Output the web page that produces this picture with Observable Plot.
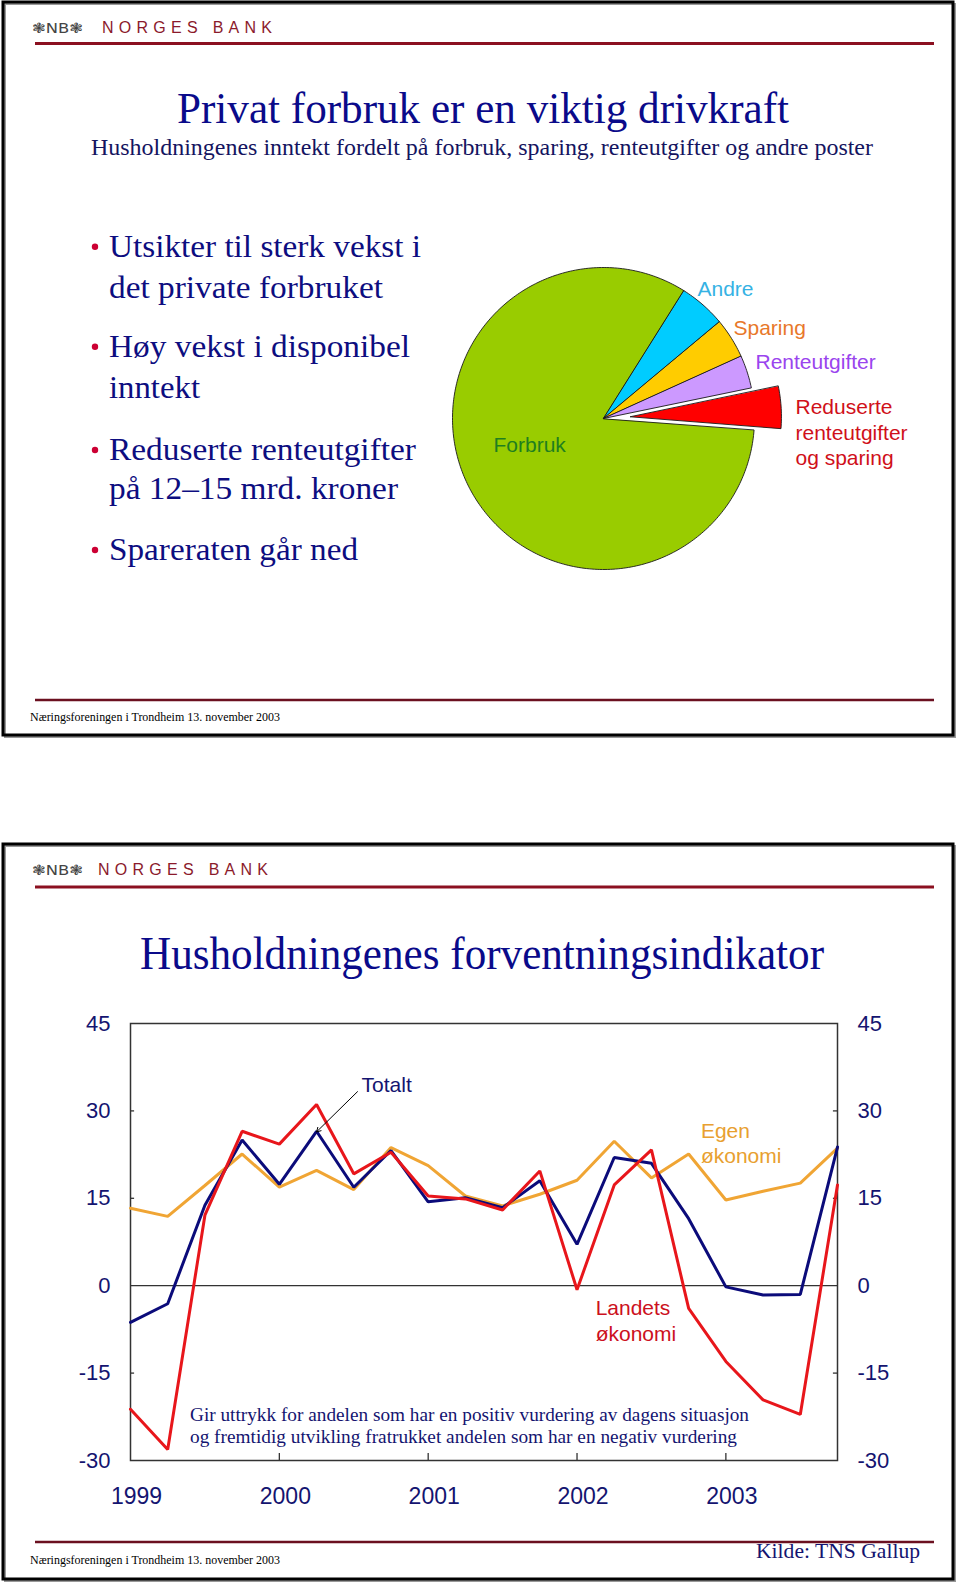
<!DOCTYPE html>
<html>
<head>
<meta charset="utf-8">
<script src="https://cdn.jsdelivr.net/npm/d3@7"></script>
<script src="https://cdn.jsdelivr.net/npm/@observablehq/plot@0.6"></script>
<style>
  html, body { margin: 0; padding: 0; background: #fff; }
  #page { position: relative; width: 960px; height: 1583px; overflow: hidden; background: #fff; }
  #deco { position: absolute; left: 0; top: 0; }
  #pie { position: absolute; left: 440px; top: 250px; }
  #lines { position: absolute; left: 0px; top: 990px; }
  #pie svg, #lines svg { overflow: visible; }
</style>
</head>
<body>
<div id="page">
  <svg id="deco" width="960" height="1583"></svg>
  <div id="pie"></div>
  <div id="lines"></div>
</div>
<script>
// ---------- DATA ----------
// Slide 1: income split (share of household income, %)
const sliceNames = ["Reduserte renteutgifter og sparing", "Renteutgifter", "Sparing", "Andre", "Forbruk"];
const sliceValues = [4.5, 3.5, 4.3, 5.0, 82.7];

// Slide 2: quarterly expectations indicator 1999Q1 .. 2003Q4
const quarters = ["1999K1","1999K2","1999K3","1999K4","2000K1","2000K2","2000K3","2000K4",
                  "2001K1","2001K2","2001K3","2001K4","2002K1","2002K2","2002K3","2002K4",
                  "2003K1","2003K2","2003K3","2003K4"];
const totalt  = [-6.3, -3.1, 13.8, 25.0, 17.4, 26.5, 16.9, 23.2, 14.4, 15.1, 13.4, 18.0, 7.1, 22.0, 21.0, 11.5, -0.2, -1.6, -1.5, 23.8];
const egen    = [13.3, 11.9, 17.2, 22.6, 16.9, 19.8, 16.5, 23.7, 20.6, 15.4, 13.7, 15.7, 18.1, 24.8, 18.5, 22.6, 14.7, 16.2, 17.6, 23.6];
const landets = [-21.2, -28.1, 12.1, 26.5, 24.3, 31.1, 19.2, 22.9, 15.4, 14.9, 13.0, 19.7, -0.7, 17.3, 23.3, -3.9, -13.0, -19.6, -22.1, 17.3];
const yTicks = [-30, -15, 0, 15, 30, 45];
const yearTicks = [0, 4, 8, 12, 16];
const yearLabels = ["1999", "2000", "2001", "2002", "2003"];

// ---------- STYLES ----------
const textNavy = "#141470";
const darkRed = "#8b1a2b";
const serif = "'Liberation Serif', 'Times New Roman', serif";
const sans = "'Liberation Sans', Arial, sans-serif";
const sliceFill = ["#ff0000", "#cc99ff", "#ffcc00", "#00ccff", "#99cc00"];
const sliceLabelColor = ["#d0101a", "#9a44ee", "#e8782a", "#35b2e4", "#1f7f1f"];

// ---------- DECORATION (slide frames, titles, text) ----------
const deco = d3.select("#deco");
function txt(x, y, s, size, fill, family, len, adjust) {
  const t = deco.append("text").attr("x", x).attr("y", y).attr("font-size", size)
    .attr("fill", fill).attr("font-family", family).text(s);
  if (len) t.attr("textLength", len).attr("lengthAdjust", adjust || "spacingAndGlyphs");
  return t;
}
function hline(x1, x2, y, color, w) {
  deco.append("line").attr("x1", x1).attr("x2", x2).attr("y1", y).attr("y2", y)
    .attr("stroke", color).attr("stroke-width", w);
}
function frameRect(x, y, w, h) {
  deco.append("rect").attr("x", x + 2).attr("y", y + 2).attr("width", w).attr("height", h)
    .attr("fill", "none").attr("stroke", "#999").attr("stroke-width", 2);
  deco.append("rect").attr("x", x).attr("y", y).attr("width", w).attr("height", h)
    .attr("fill", "none").attr("stroke", "#000").attr("stroke-width", 3);
}
function logo(yBase, xN) {
  txt(32, yBase, "❃NB❃", 14, "#444", "'DejaVu Sans', sans-serif", 51);
  txt(xN, yBase, "NORGES BANK", 16, darkRed, sans, 170, "spacing");
}

// Slide 1
frameRect(3, 2, 950, 733);
logo(33, 102);
hline(35, 934, 43.5, "#8b1020", 3);
txt(177, 123, "Privat forbruk er en viktig drivkraft", 44, "#0a0a8a", serif, 612);
txt(91, 155, "Husholdningenes inntekt fordelt på forbruk, sparing, renteutgifter og andre poster", 23, "#141460", serif, 782);
const bullets = [
  ["Utsikter til sterk vekst i", 256.7, 312, true],
  ["det private forbruket", 298.3, 274, false],
  ["Høy vekst i disponibel", 356.7, 301, true],
  ["inntekt", 398.3, 91, false],
  ["Reduserte renteutgifter", 460, 307, true],
  ["på 12–15 mrd. kroner", 499.3, 289, false],
  ["Spareraten går ned", 560, 249, true]
];
bullets.forEach(([s, y, w, dot]) => {
  txt(109, y, s, 31, "#0d0d80", serif, w);
  if (dot) deco.append("circle").attr("cx", 95).attr("cy", y - 10).attr("r", 3.2).attr("fill", "#cc0033");
});
hline(35, 934, 700, "#6b1020", 2.5);
txt(30, 721, "Næringsforeningen i Trondheim 13. november 2003", 13, "#000", serif, 250);

// Slide 2
frameRect(3, 844, 950, 735);
logo(875, 98);
hline(35, 934, 887, "#8b1020", 3);
txt(140, 969, "Husholdningenes forventningsindikator", 46, "#0a0a8a", serif, 684);
txt(190, 1421, "Gir uttrykk for andelen som har en positiv vurdering av dagens situasjon", 18.5, textNavy, serif, 559);
txt(190, 1443, "og fremtidig utvikling fratrukket andelen som har en negativ vurdering", 18.5, textNavy, serif, 547);
hline(35, 934, 1542, "#6b1020", 2.5);
txt(30, 1564, "Næringsforeningen i Trondheim 13. november 2003", 13, "#000", serif, 250);
txt(756, 1558, "Kilde: TNS Gallup", 22, textNavy, serif, 164);

// ---------- PIE (slide 1) ----------
const R = 151;
const startDeg = -4.5;
const explode = 27;
const total = d3.sum(sliceValues);
let cursor = startDeg * Math.PI / 180;
const pieRows = [];
sliceValues.forEach((v, k) => {
  const a0 = cursor, a1 = cursor + v / total * 2 * Math.PI;
  cursor = a1;
  const mid = (a0 + a1) / 2;
  const off = k === 0 ? explode : 0;
  const cx = off * Math.cos(mid), cy = off * Math.sin(mid);
  pieRows.push({slice: k, x: cx, y: cy});
  const n = Math.max(4, Math.ceil((a1 - a0) / (Math.PI / 180)));
  for (let j = 0; j <= n; j++) {
    const a = a0 + (a1 - a0) * j / n;
    pieRows.push({slice: k, x: cx + R * Math.cos(a), y: cy + R * Math.sin(a)});
  }
});
const pieMarks = [];
for (let k = sliceValues.length - 1; k >= 0; k--) {
  pieMarks.push(Plot.line(pieRows.filter(d => d.slice === k), {
    x: "x", y: "y", fill: sliceFill[k], stroke: "#1a1a1a", strokeWidth: 0.9,
    curve: "linear-closed", strokeLinejoin: "miter"
  }));
}
const pieLabels = [
  {k: 4, text: "Forbruk", x: -110, y: -25},
  {k: 3, text: "Andre", x: 94, y: 131},
  {k: 2, text: "Sparing", x: 130, y: 92},
  {k: 1, text: "Renteutgifter", x: 152, y: 58},
  {k: 0, text: "Reduserte\nrenteutgifter\nog sparing", x: 192, y: -13}
];
pieLabels.forEach(l => {
  pieMarks.push(Plot.text([l], {x: "x", y: "y", text: "text", fill: sliceLabelColor[l.k],
    textAnchor: "start", fontSize: 21, lineHeight: 1.2}));
});
const pie = Plot.plot({
  width: 500, height: 330, margin: 0,
  x: {domain: [-163, 337], axis: null},
  y: {domain: [-162, 168], axis: null},
  style: {fontFamily: sans, background: "transparent"},
  marks: pieMarks
});
document.getElementById("pie").appendChild(pie);

// ---------- LINE CHART (slide 2) ----------
const rows = quarters.map((q, i) => ({q, i, totalt: totalt[i], egen: egen[i], landets: landets[i]}));
const lineW = 3;
const fmtY = d => String(d);
const chart = Plot.plot({
  width: 960, height: 540,
  marginLeft: 130, marginRight: 123, marginTop: 33, marginBottom: 70,
  x: {domain: [0, 19], label: null},
  y: {domain: [-30, 45], label: null},
  style: {fontFamily: sans, color: textNavy, background: "transparent"},
  marks: [
    Plot.ruleY([0], {stroke: "#333", strokeWidth: 1.3}),
    Plot.ruleY([-15, 15, 30], {x1: 0, x2: 0.11, stroke: "#333", strokeWidth: 1.3}),
    Plot.ruleY([-15, 15, 30], {x1: 18.89, x2: 19, stroke: "#333", strokeWidth: 1.3}),
    Plot.ruleX([4, 8, 12, 16], {y1: -30, y2: -28.8, stroke: "#333", strokeWidth: 1.3}),
    Plot.frame({stroke: "#333", strokeWidth: 1.5}),
    Plot.axisY({anchor: "left", ticks: yTicks, tickFormat: fmtY, tickSize: 0, tickPadding: 20, fontSize: 22, fill: textNavy, label: null}),
    Plot.axisY({anchor: "right", ticks: yTicks, tickFormat: fmtY, tickSize: 0, tickPadding: 20, fontSize: 22, fill: textNavy, label: null}),
    Plot.axisX({ticks: yearTicks, tickFormat: d => yearLabels[yearTicks.indexOf(d)], tickSize: 0,
      tickPadding: 27, fontSize: 23, dx: 6, fill: textNavy, label: null}),
    Plot.line(rows, {x: "i", y: "egen", stroke: "#f0a534", strokeWidth: lineW, strokeLinejoin: "miter"}),
    Plot.line(rows, {x: "i", y: "totalt", stroke: "#0b0b7a", strokeWidth: lineW, strokeLinejoin: "miter"}),
    Plot.line(rows, {x: "i", y: "landets", stroke: "#e8161b", strokeWidth: lineW, strokeLinejoin: "miter"}),
    Plot.arrow({length: 1}, {x1: 6.1, y1: 33.3, x2: 5.0, y2: 26.4, stroke: "#000", strokeWidth: 1, headLength: 7}),
    Plot.text(["Totalt"], {x: 6.21, y: 34.4, text: d => d, textAnchor: "start", fontSize: 21, fill: textNavy}),
    Plot.text(["Egen\nøkonomi"], {x: 15.33, y: 24.6, text: d => d, textAnchor: "start", fontSize: 21, lineHeight: 1.2, fill: "#e8a030"}),
    Plot.text(["Landets\nøkonomi"], {x: 12.5, y: -5.8, text: d => d, textAnchor: "start", fontSize: 21, lineHeight: 1.25, fill: "#cc1020"})
  ]
});
document.getElementById("lines").appendChild(chart);
</script>
</body>
</html>
